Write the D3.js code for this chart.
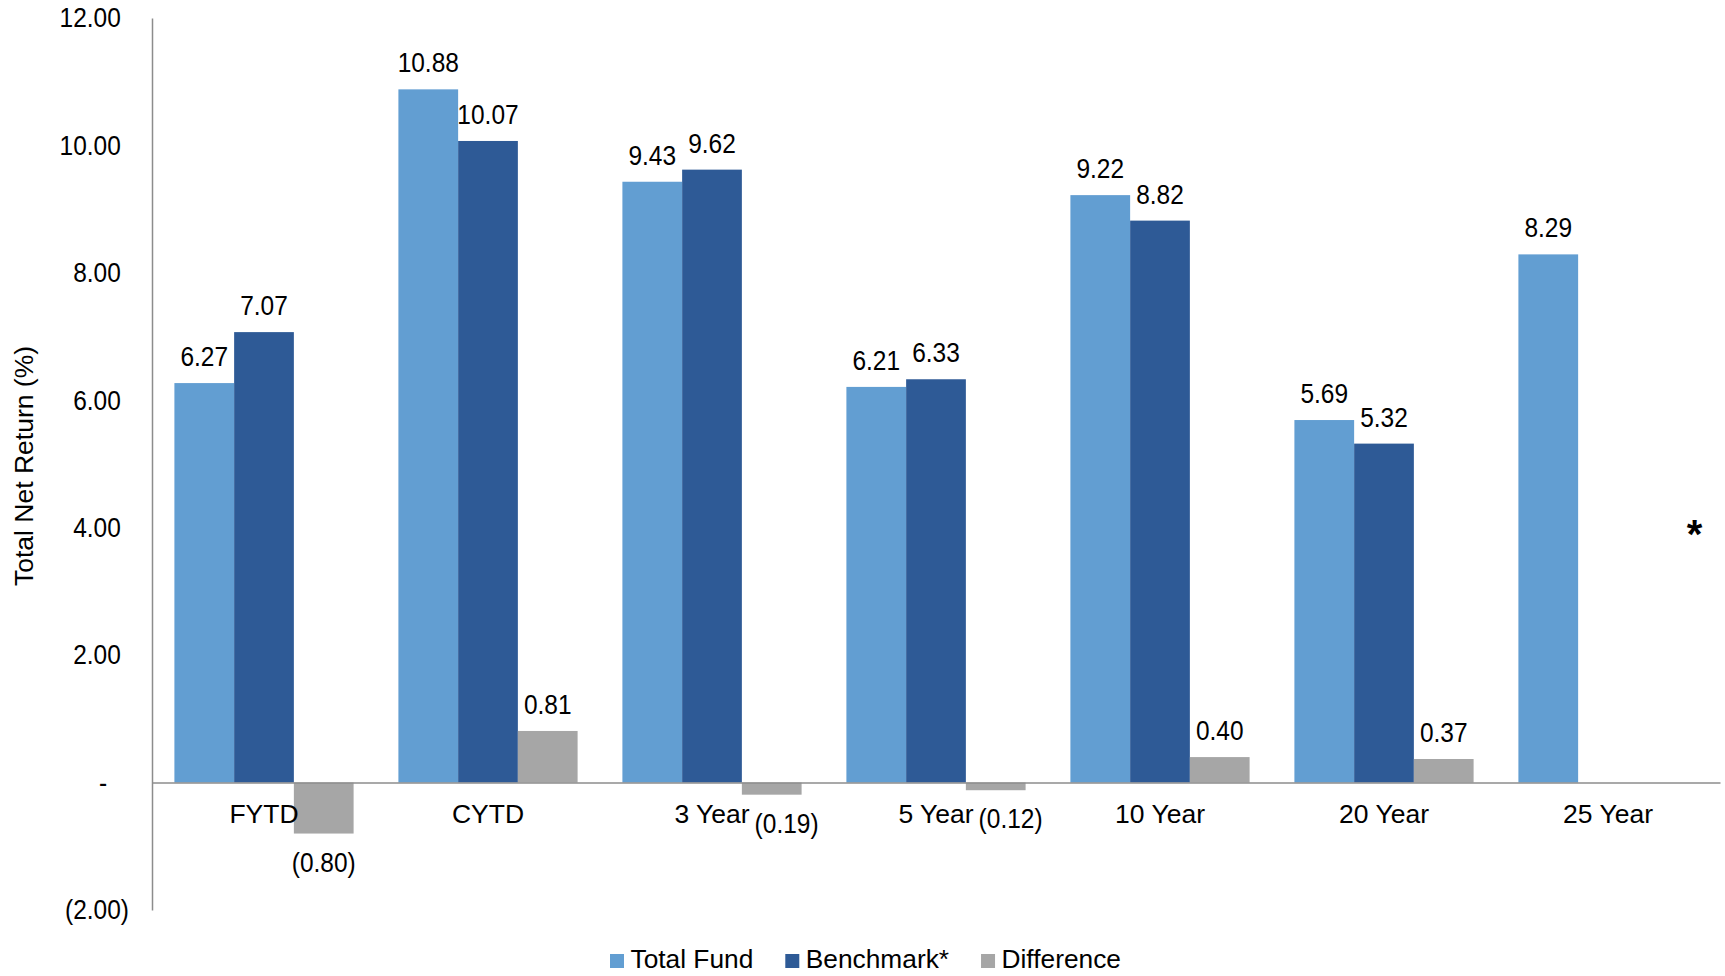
<!DOCTYPE html>
<html>
<head>
<meta charset="utf-8">
<script src="https://cdn.jsdelivr.net/npm/d3@7"></script>
<style>
  html, body { margin: 0; padding: 0; background: #fff; }
  svg text { font-family: "Liberation Sans", Arial, sans-serif; fill: #000; }
</style>
</head>
<body>
<div id="chart"></div>
<script>
// data
const categories = ["FYTD", "CYTD", "3 Year", "5 Year", "10 Year", "20 Year", "25 Year"];
const seriesNames = ["Total Fund", "Benchmark*", "Difference"];
const totalFund = [6.27, 10.88, 9.43, 6.21, 9.22, 5.69, 8.29];
const benchmark = [7.07, 10.07, 9.62, 6.33, 8.82, 5.32, null];
const difference = [-0.80, 0.81, -0.19, -0.12, 0.40, 0.37, null];
const yTicks = [-2, 0, 2, 4, 6, 8, 10, 12];
const colors = ["#629ED2", "#2E5A96", "#A6A6A6"];

document.addEventListener("DOMContentLoaded", () => {
    const width = 1725, height = 976;
    const margin = { top: 18, right: 5, bottom: 66, left: 152 };
    const numSize = 24.5;   // numbers (ticks + bar labels)
    const catSize = 26.5;   // category labels + axis title
    const legSize = 26.3;
    const tall = 1.12;      // numbers in the source look a bit taller than arial
    const axisColor = "#8C8C8C";

    // move x/y into a transform so the glyphs can be stretched vertically
    function stretchY(sel, k) {
        sel.each(function () {
            const t = d3.select(this);
            const tx = +t.attr("x") || 0, ty = +t.attr("y") || 0;
            t.attr("x", 0).attr("y", 0)
                .attr("transform", `translate(${tx},${ty}) scale(1,${k})`);
        });
    }

    const svg = d3.select("#chart").append("svg")
        .attr("width", width)
        .attr("height", height);

    const y = d3.scaleLinear()
        .domain([-2, 12])
        .range([height - margin.bottom, margin.top]);

    const x0 = d3.scaleBand()
        .domain(categories)
        .range([margin.left, width - margin.right])
        .paddingInner(0.2)
        .paddingOuter(0.1);

    const x1 = d3.scaleBand()
        .domain(seriesNames)
        .range([0, x0.bandwidth()]);

    const seriesValues = [totalFund, benchmark, difference];

    // accounting style number format: 1.23 / (1.23) / -
    const fmt = v => v === 0 ? "-" : v < 0 ? "(" + d3.format(".2f")(-v) + ")" : d3.format(".2f")(v);

    // bars
    const rows = [];
    categories.forEach((c, i) => {
        seriesNames.forEach((s, j) => {
            const v = seriesValues[j][i];
            if (v !== null) rows.push({ cat: c, series: s, j: j, value: v });
        });
    });

    svg.append("g").selectAll("rect")
        .data(rows)
        .enter()
        .append("rect")
        .attr("x", d => x0(d.cat) + x1(d.series))
        .attr("y", d => y(Math.max(0, d.value)))
        .attr("width", x1.bandwidth())
        .attr("height", d => Math.abs(y(d.value) - y(0)))
        .attr("fill", d => colors[d.j]);

    // y axis
    const yAxis = svg.append("g")
        .attr("transform", `translate(${margin.left},0)`)
        .call(d3.axisLeft(y).tickValues(yTicks).tickSize(0).tickPadding(23).tickFormat(() => ""));
    yAxis.select(".domain").attr("stroke", axisColor).attr("stroke-width", 1.5);
    yAxis.selectAll(".tick text")
        .attr("font-size", numSize)
        .attr("font-family", "Liberation Sans, Arial, sans-serif")
        .each(function (d) {
            const t = d3.select(this);
            // keep the hidden ")" / digit padding of the excel accounting format
            if (d < 0) {
                t.append("tspan").text(fmt(d));
            } else if (d === 0) {
                t.append("tspan").text("-");
                t.append("tspan").attr("fill-opacity", 0).text("0)");
            } else {
                t.append("tspan").text(fmt(d));
                t.append("tspan").attr("fill-opacity", 0).text(")");
            }
        });
    stretchY(yAxis.selectAll(".tick text"), tall);

    // category axis along the zero line
    const xAxis = svg.append("g")
        .attr("transform", `translate(0,${y(0)})`)
        .call(d3.axisBottom(x0).tickSize(0).tickSizeOuter(0).tickPadding(22));
    xAxis.select(".domain").attr("stroke", axisColor).attr("stroke-width", 1.5);
    xAxis.selectAll(".tick text")
        .attr("font-size", catSize)
        .attr("font-family", "Liberation Sans, Arial, sans-serif");

    // category label extents, used to keep small negative labels clear of them
    const catRight = {};
    xAxis.selectAll(".tick text").each(function (d) {
        catRight[d] = x0(d) + x0.bandwidth() / 2 + this.getComputedTextLength() / 2;
    });

    // value labels
    const labels = svg.append("g").selectAll("text")
        .data(rows)
        .enter()
        .append("text")
        .attr("font-size", numSize)
        .attr("text-anchor", "middle")
        .text(d => fmt(d.value))
        .attr("y", d => d.value >= 0 ? y(d.value) - 17 : y(d.value) + 38)
        .attr("x", function (d) {
            const cx = x0(d.cat) + x1(d.series) + x1.bandwidth() / 2;
            if (d.value >= 0) return cx;
            const half = this.getComputedTextLength() / 2;
            const minLeft = catRight[d.cat] + 5;
            const nearAxis = y(d.value) + 38 - numSize < y(0) + 45;
            return (nearAxis && cx - half < minLeft) ? minLeft + half : cx;
        });
    stretchY(labels, tall);

    // asterisk note at the right
    svg.append("text")
        .attr("x", x0(categories[categories.length - 1]) + x0.bandwidth() - 3)
        .attr("y", y(4) + 20)
        .attr("text-anchor", "middle")
        .attr("font-size", 40)
        .attr("font-weight", "bold")
        .text("*");

    // y axis title
    svg.append("text")
        .attr("transform", `translate(33,${(margin.top + height - margin.bottom) / 2 + 2}) rotate(-90)`)
        .attr("text-anchor", "middle")
        .attr("font-size", catSize)
        .text("Total Net Return (%)");

    // legend
    const legend = svg.append("g");
    let lx = 610;
    const ly = 968;
    seriesNames.forEach((s, j) => {
        legend.append("rect")
            .attr("x", lx)
            .attr("y", ly - 14)
            .attr("width", 14)
            .attr("height", 14)
            .attr("fill", colors[j]);
        const t = legend.append("text")
            .attr("x", lx + 20.5)
            .attr("y", ly)
            .attr("font-size", legSize)
            .text(s);
        lx += 20.5 + t.node().getComputedTextLength() + 32;
    });
});
</script>
</body>
</html>
